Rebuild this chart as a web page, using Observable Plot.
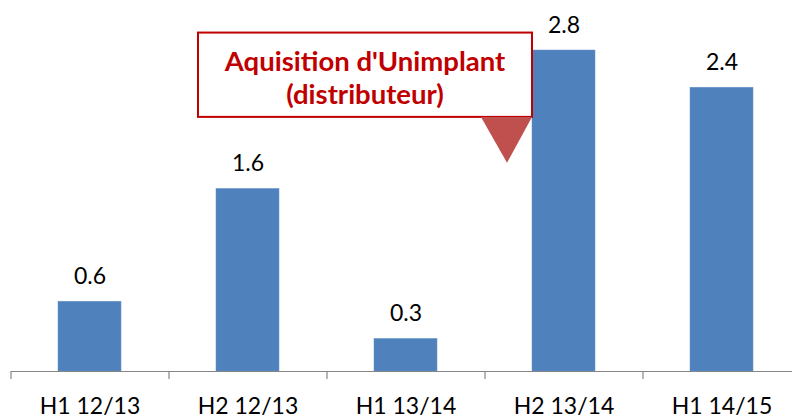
<!DOCTYPE html>
<html><head><meta charset="utf-8">
<script src="https://cdn.jsdelivr.net/npm/d3@7"></script>
<script src="https://cdn.jsdelivr.net/npm/@observablehq/plot@0.6"></script>
<style>html,body{margin:0;padding:0;background:#fff;overflow:hidden}</style>
</head><body><div id="chart"></div>
<script>
const categories = ["H1 12/13", "H2 12/13", "H1 13/14", "H2 13/14", "H1 14/15"];
const values = [0.60, 1.57, 0.28, 2.76, 2.44];
const valueLabels = ["0.6", "1.6", "0.3", "2.8", "2.4"];
const annotationLines = ["Aquisition d'Unimplant", "(distributeur)"];
const annotationTarget = "H2 13/14";

const data = categories.map((c, i) => ({cat: c, value: values[i], label: valueLabels[i]}));

const W = 792, H = 415, ML = 11, MR = -9;
const step = (W - ML - MR) / categories.length;

function callout(index, scales) {
  const x = scales.x, y = scales.y;
  const right = x(annotationTarget);
  const left = right - 334;
  const top = y(2.91), bottom = y(2.185), tip = y(1.79);
  const g = d3.create("svg:g");
  g.append("rect").attr("x", left).attr("y", top).attr("width", right - left).attr("height", bottom - top)
    .attr("fill", "white").attr("stroke", "#C00000").attr("stroke-width", 2);
  g.append("path").attr("d", `M${right - 51},${bottom}L${right},${bottom}L${right - 25},${tip}Z`).attr("fill", "#C0504D");
  const cx = (left + right) / 2;
  annotationLines.forEach((t, i) => {
    g.append("text").attr("x", cx).attr("y", top + 38 + i * 33.5).attr("text-anchor", "middle")
      .attr("fill", "#C00000").attr("font-weight", "bold").attr("font-size", 27.5).attr("font-family", "Lato").text(t);
  });
  return g.node();
}

const chart = Plot.plot({
  width: W, height: H,
  marginLeft: ML, marginRight: MR, marginTop: 0, marginBottom: 44,
  style: {fontFamily: "Lato", fontSize: "23px", color: "#000", background: "#fff", overflow: "visible"},
  x: {domain: categories, paddingInner: 0.6, paddingOuter: 0.3, axis: null, label: null},
  y: {domain: [0, 3.19], axis: null, label: null},
  marks: [
    Plot.barY(data, {x: "cat", y: "value", fill: "#4F81BD", stroke: "#6A95C8", strokeWidth: 0.5}),
    Plot.ruleY([0], {stroke: "#868686", strokeWidth: 1.2}),
    Plot.axisX({tickSize: 8, tickFormat: () => "", label: null, dx: -step / 2, stroke: "#868686", strokeWidth: 1.2}),
    Plot.axisX({tickSize: 0, tickPadding: 26, label: null, fontSize: 23, fill: "#000"}),
    Plot.text(data, {x: "cat", y: "value", text: "label", dy: -18, lineAnchor: "bottom", fontSize: 23, fill: "#000"}),
    callout
  ]
});
document.getElementById("chart").appendChild(chart);
</script>
</body></html>
